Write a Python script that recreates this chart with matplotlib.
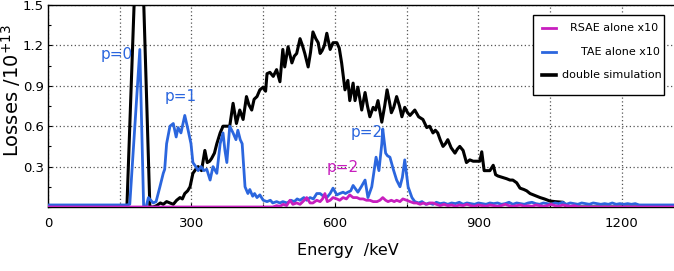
import matplotlib
matplotlib.use("Agg")
import matplotlib.pyplot as plt
from matplotlib.ticker import MultipleLocator
from matplotlib.patches import Rectangle
from matplotlib.lines import Line2D

# ---------------- data ----------------
double_E = [0, 160, 165, 191, 213, 220, 227, 235, 241, 248, 255, 262, 269, 276, 281, 286, 292, 297,
            303, 309, 314, 321, 328, 333, 338, 342, 348, 353, 360, 366, 373, 380, 387, 394, 401, 408,
            415, 420, 426, 431, 437, 443, 450, 455, 458, 464, 471, 478, 485, 491, 495, 502, 510, 515,
            520, 527, 532, 537, 544, 549, 554, 560, 565, 569, 573, 578, 583, 590, 596, 604, 609, 614,
            621, 627, 631, 638, 642, 648, 656, 663, 668, 673, 680, 685, 690, 698, 704, 709, 714, 718,
            723, 729, 735, 740, 746, 752, 757, 762, 767, 775, 784, 792, 798, 805, 810, 815, 820, 826,
            831, 836, 843, 851, 856, 861, 868, 875, 882, 889, 895, 903, 907, 912, 918, 924, 931, 936,
            941, 950, 959, 966, 972, 980, 987, 995, 1001, 1008, 1015, 1022, 1029, 1038, 1049, 1060,
            1077, 1085, 1309]
double_v = [0, 0, 0, 2.6, 0.0, 0.0, 0.01, 0.03, 0.02, 0.04, 0.03, 0.02, 0.05, 0.07, 0.06, 0.10, 0.12, 0.15,
            0.25, 0.28, 0.30, 0.27, 0.42, 0.33, 0.34, 0.36, 0.40, 0.47, 0.55, 0.60, 0.60, 0.60, 0.77, 0.62, 0.72, 0.65,
            0.82, 0.76, 0.72, 0.80, 0.82, 0.87, 0.89, 0.86, 0.99, 1.00, 0.97, 1.02, 0.93, 1.17, 1.04, 1.19, 1.07, 1.12,
            1.14, 1.25, 1.20, 1.14, 1.04, 1.15, 1.30, 1.25, 1.22, 1.14, 1.16, 1.20, 1.29, 1.17, 1.22, 1.22, 1.18, 1.07,
            0.87, 0.94, 0.79, 0.92, 0.79, 0.89, 0.72, 0.85, 0.75, 0.67, 0.74, 0.72, 0.79, 0.63, 0.75, 0.87, 0.78, 0.70,
            0.74, 0.82, 0.75, 0.67, 0.74, 0.70, 0.68, 0.70, 0.72, 0.67, 0.65, 0.59, 0.60, 0.55, 0.57, 0.55, 0.50, 0.45,
            0.47, 0.50, 0.44, 0.40, 0.43, 0.45, 0.42, 0.33, 0.35, 0.34, 0.34, 0.34, 0.41, 0.27, 0.27, 0.27, 0.31, 0.24,
            0.23, 0.22, 0.21, 0.20, 0.20, 0.18, 0.14, 0.13, 0.12, 0.10, 0.09, 0.08, 0.07, 0.06, 0.045, 0.04,
            0.035, 0.0, 0.0]

tae_E = [0, 165, 171, 192, 200, 205, 210, 215, 220, 226, 234, 241, 244, 248, 255, 262, 268, 272, 278, 286,
         293, 299, 303, 309, 314, 320, 326, 332, 339, 345, 353, 360, 366, 370, 374, 380, 387, 393, 397, 402,
         406, 412, 418, 422, 428, 432, 437, 443, 450, 458, 465, 470, 478, 485, 491, 500, 508, 515, 521, 527,
         535, 541, 548, 555, 562, 569, 576, 583, 590, 596, 604, 610, 617, 622, 627, 633, 638, 644, 648, 655,
         663, 669, 677, 686, 692, 698, 700, 706, 710, 715, 722, 729, 736, 741, 746, 753, 761, 767, 775, 782,
         790, 797, 805, 812, 820, 828, 836, 844, 852, 860, 868, 876, 884, 892, 900, 908, 916, 924, 932, 940,
         948, 956, 964, 972, 980, 988, 996, 1004, 1012, 1020, 1028, 1036, 1044, 1052, 1060, 1068, 1076, 1084,
         1092, 1100, 1108, 1116, 1124, 1132, 1140, 1148, 1156, 1164, 1172, 1180, 1188, 1196, 1204, 1212, 1220,
         1228, 1236, 1309]
tae_v = [0.015, 0.015, 0.02, 1.17, 0.0, 0.0, 0.07, 0.05, 0.03, 0.04, 0.15, 0.25, 0.28, 0.47, 0.60, 0.62, 0.52, 0.59, 0.55, 0.68,
         0.57, 0.47, 0.33, 0.30, 0.27, 0.30, 0.27, 0.28, 0.20, 0.30, 0.25, 0.47, 0.55, 0.42, 0.33, 0.60, 0.55, 0.50, 0.57, 0.50,
         0.47, 0.15, 0.10, 0.13, 0.08, 0.10, 0.07, 0.09, 0.05, 0.04, 0.05, 0.03, 0.04, 0.03, 0.04, 0.03, 0.05, 0.04, 0.06, 0.05,
         0.07, 0.05, 0.07, 0.06, 0.10, 0.10, 0.08, 0.07, 0.10, 0.14, 0.09, 0.10, 0.11, 0.10, 0.11, 0.12, 0.16, 0.13, 0.11, 0.15,
         0.20, 0.07, 0.15, 0.37, 0.27, 0.47, 0.58, 0.40, 0.38, 0.37, 0.28, 0.20, 0.15, 0.22, 0.35, 0.15, 0.07, 0.04, 0.03, 0.04,
         0.02, 0.03, 0.02, 0.035, 0.025, 0.03, 0.02, 0.03, 0.025, 0.035, 0.02, 0.03, 0.025, 0.02, 0.03, 0.025, 0.02, 0.03, 0.025, 0.03,
         0.02, 0.025, 0.035, 0.02, 0.03, 0.025, 0.02, 0.03, 0.035, 0.025, 0.02, 0.03, 0.025, 0.02, 0.03, 0.025, 0.035, 0.02,
         0.03, 0.025, 0.02, 0.03, 0.025, 0.02, 0.03, 0.025, 0.02, 0.025, 0.02, 0.03, 0.02, 0.025, 0.02, 0.025, 0.02,
         0.025, 0.015, 0.015]

rsae_E = [0, 470, 478, 485, 492, 499, 506, 512, 520, 527, 533, 541, 548, 554, 562, 569, 574, 579, 584, 590,
          596, 604, 610, 617, 624, 631, 638, 646, 652, 659, 666, 673, 680, 688, 694, 700, 706, 711, 718, 724,
          729, 736, 742, 750, 757, 765, 771, 778, 785, 792, 800, 805, 812, 820, 828, 836, 844, 852, 860, 868,
          876, 884, 892, 900, 908, 916, 924, 932, 940, 948, 956, 964, 972, 980, 988, 996, 1004, 1012, 1020,
          1028, 1036, 1044, 1052, 1060, 1068, 1076, 1084, 1092, 1100, 1110, 1309]
rsae_v = [0, 0, 0.01, 0.005, 0.02, 0.01, 0.05, 0.02, 0.03, 0.02, 0.04, 0.07, 0.03, 0.03, 0.05, 0.04, 0.06, 0.10, 0.04, 0.05,
          0.07, 0.06, 0.05, 0.07, 0.06, 0.09, 0.07, 0.07, 0.06, 0.06, 0.05, 0.05, 0.04, 0.04, 0.05, 0.07, 0.05, 0.04, 0.05, 0.04,
          0.05, 0.04, 0.06, 0.05, 0.04, 0.03, 0.03, 0.02, 0.03, 0.02, 0.03, 0.03, 0.02, 0.01, 0.02, 0.01, 0.015, 0.005, 0.015, 0.01,
          0.02, 0.01, 0.005, 0.015, 0.01, 0.005, 0.015, 0.01, 0.005, 0.01, 0.02, 0.01, 0.005, 0.01, 0.015, 0.005, 0.01, 0.005, 0.015,
          0.01, 0.005, 0.01, 0.02, 0.01, 0.005, 0.015, 0.01, 0.005, 0.01, 0.0, 0.0]

labels = ["RSAE alone x10", "TAE alone x10", "double simulation"]
x_ticks = [0, 300, 600, 900, 1200]
y_ticks = [0.3, 0.6, 0.9, 1.2, 1.5]

# annotations: (text, energy, value, colour-key)
notes = [("p=0", 144, 1.13, "tae"), ("p=1", 278, 0.82, "tae"),
         ("p=2", 667, 0.55, "tae"), ("p=2", 617, 0.29, "rsae")]

# ---------------- style ----------------
C_RSAE = "#c81ebe"
C_TAE = "#2b66de"
C_DBL = "#000000"
FONT = "DejaVu Sans"

W, H = 674, 271
fig = plt.figure(figsize=(W / 100, H / 100), dpi=100)
AX_L, AX_R, AX_T, AX_B = 48, 674, 5, 207
ax = fig.add_axes([AX_L / W, (H - AX_B) / H, (AX_R - AX_L) / W, (AX_B - AX_T) / H])


def fx(px):
    return (px - AX_L) / (AX_R - AX_L)


def fy(py):
    return (AX_B - py) / (AX_B - AX_T)


ax.plot(double_E, double_v, color=C_DBL, lw=2.2, zorder=2)
ax.plot(tae_E, tae_v, color=C_TAE, lw=2.0, zorder=3)
ax.plot(rsae_E, rsae_v, color=C_RSAE, lw=2.0, zorder=4)

ax.set_xlim(0, 1309)
ax.set_ylim(0, 1.5)
ax.set_xticks(x_ticks)
ax.set_xticklabels([str(t) for t in x_ticks], family=FONT, fontsize=9.5)
ax.xaxis.set_minor_locator(MultipleLocator(150))
ax.set_yticks(y_ticks)
ax.set_yticklabels([f"{t:.1f}" for t in y_ticks], family=FONT, fontsize=9.5)
ax.yaxis.set_minor_locator(MultipleLocator(0.15))
ax.tick_params(which="both", direction="in", length=3, width=0.8)
ax.tick_params(which="minor", length=2)
ax.tick_params(axis="x", pad=7)
ax.tick_params(axis="y", pad=3)

ax.grid(which="major", axis="y", linestyle=(0, (1, 2)), color="#555555", lw=0.9)
ax.grid(which="both", axis="x", linestyle=(0, (1, 2)), color="#555555", lw=0.9)
ax.set_axisbelow(True)
ax.spines["right"].set_visible(False)
for s in ["left", "top", "bottom"]:
    ax.spines[s].set_linewidth(1.0)

ax.set_xlabel("Energy  /keV", family=FONT, fontsize=11.5)
ax.xaxis.set_label_coords(fx(348), fy(250))
ax.xaxis.label.set_va("center")
ax.set_ylabel(r"Losses /10$^{+13}$", family=FONT, fontsize=14)
ax.yaxis.set_label_coords(fx(23), fy(91))

cmap = {"tae": C_TAE, "rsae": C_RSAE}
for txt, e, v, k in notes:
    ax.text(e, v, txt, color=cmap[k], family=FONT, fontsize=11, ha="center", va="center", zorder=6)

# legend (handles on the left, labels right-aligned)
ax.add_patch(Rectangle((fx(533), fy(95)), fx(664) - fx(533), fy(15) - fy(95),
                       transform=ax.transAxes, facecolor="white", edgecolor="black",
                       lw=1.0, zorder=10, clip_on=False))
leg_rows = [(labels[0], C_RSAE, 2.0, 28, 658), (labels[1], C_TAE, 2.0, 52, 660),
            (labels[2], C_DBL, 2.6, 75, 662)]
for lab, col, lw, py, right in leg_rows:
    ax.add_line(Line2D([fx(542), fx(556)], [fy(py), fy(py)], transform=ax.transAxes,
                       color=col, lw=lw, zorder=11, clip_on=False))
    ax.text(fx(right), fy(py), lab, transform=ax.transAxes, ha="right", va="center",
            family=FONT, fontsize=8, zorder=11)

fig.savefig("out.png", dpi=100)
